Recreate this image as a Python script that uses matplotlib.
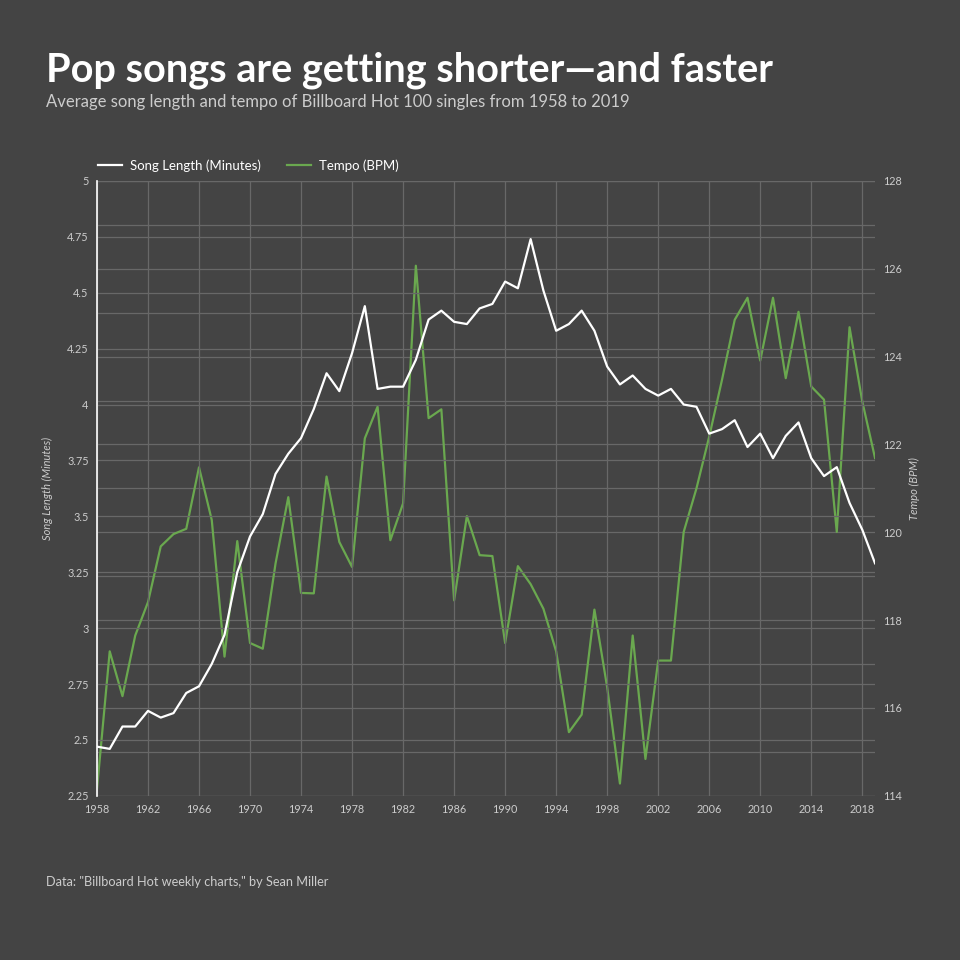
import matplotlib
matplotlib.use('Agg')
from matplotlib import pyplot as plt
from matplotlib.ticker import MultipleLocator, FuncFormatter
import numpy as np

# years on the x axis
years = list(range(1958, 2020))
year_ticks = list(range(1958, 2019, 4))

# average song length in minutes
song_length = [2.47, 2.46, 2.56, 2.56, 2.63, 2.60, 2.62, 2.71, 2.74, 2.84,
               2.97, 3.25, 3.41, 3.51, 3.69, 3.78, 3.85, 3.98, 4.14, 4.06,
               4.23, 4.44, 4.07, 4.08, 4.08, 4.20, 4.38, 4.42, 4.37, 4.36,
               4.43, 4.45, 4.55, 4.52, 4.74, 4.51, 4.33, 4.36, 4.42, 4.33,
               4.17, 4.09, 4.13, 4.07, 4.04, 4.07, 4.00, 3.99, 3.87, 3.89,
               3.93, 3.81, 3.87, 3.76, 3.86, 3.92, 3.76, 3.68, 3.72, 3.56,
               3.44, 3.29]

# average tempo in BPM
tempo = [114.15, 117.29, 116.27, 117.65, 118.41, 119.68, 119.96, 120.08, 121.48, 120.28,
         117.17, 119.80, 117.48, 117.35, 119.29, 120.80, 118.62, 118.61, 121.27, 119.78,
         119.21, 122.14, 122.86, 119.82, 120.66, 126.07, 122.60, 122.80, 118.45, 120.37,
         119.48, 119.46, 117.48, 119.23, 118.82, 118.26, 117.29, 115.45, 115.85, 118.24,
         116.47, 114.28, 117.65, 114.84, 117.08, 117.08, 120.01, 121.00, 122.18, 123.47,
         124.84, 125.34, 123.91, 125.34, 123.51, 125.02, 123.32, 123.02, 120.01, 124.67,
         122.98, 121.69]

bg = '#444444'
grid_col = '#686868'
text_col = '#cccccc'
green = '#6aa84f'

plt.rcParams['font.family'] = ['Lato', 'DejaVu Sans']

fig = plt.figure(figsize=(9.6, 9.6), dpi=100, facecolor=bg)
ax = fig.add_axes([0.101, 0.171, 0.8105, 0.6405])
ax2 = ax.twinx()

l1, = ax.plot(years, song_length, color='white', lw=1.6, zorder=5)
l2, = ax2.plot(years, tempo, color=green, lw=1.6, zorder=4)

ax.set_xlim(1958, 2019)
ax.set_ylim(2.25, 5)
ax2.set_ylim(114, 128)

ax.set_xticks(year_ticks)
ax.yaxis.set_major_locator(MultipleLocator(0.25))
ax.yaxis.set_major_formatter(FuncFormatter(lambda v, p: '%g' % v))
ax2.yaxis.set_major_locator(MultipleLocator(2))
ax2.yaxis.set_minor_locator(MultipleLocator(1))

# ax2 carries the background so the green line sits under the white one
ax.set_zorder(ax2.get_zorder() + 1)
ax.patch.set_visible(False)
ax2.patch.set_visible(True)
ax2.patch.set_facecolor(bg)

ax2.grid(True, which='both', axis='y', color=grid_col, lw=0.9)
ax.grid(True, which='major', color=grid_col, lw=0.9)
ax.set_axisbelow(True)
ax2.set_axisbelow(True)

for a in (ax, ax2):
    for s in a.spines.values():
        s.set_visible(False)
    a.tick_params(which='both', colors=text_col, labelsize=7.8, length=0, pad=6)
ax.spines['left'].set_visible(True)
ax.spines['left'].set_color('white')
ax.spines['left'].set_linewidth(1.2)

ax.set_ylabel('Song Length (Minutes)', color=text_col, fontsize=8,
              style='italic', labelpad=10)
ax2.set_ylabel('Tempo (BPM)', color=text_col, fontsize=8,
               style='italic', labelpad=5)

leg = ax.legend([l1, l2], ['Song Length (Minutes)', 'Tempo (BPM)'],
                loc='lower left', bbox_to_anchor=(-0.01, 1.0), ncol=2,
                frameon=False, fontsize=9.5, handlelength=1.8,
                handletextpad=0.6, columnspacing=2.0, borderaxespad=0.3)
for t in leg.get_texts():
    t.set_color('white')

fig.text(0.048, 0.915, 'Pop songs are getting shorter\u2014and faster',
         color='white', fontsize=28.5, fontweight='bold', va='baseline')
fig.text(0.048, 0.889, 'Average song length and tempo of Billboard Hot 100 singles from 1958 to 2019',
         color=text_col, fontsize=12, va='baseline')
fig.text(0.048, 0.077, 'Data: "Billboard Hot weekly charts," by Sean Miller',
         color=text_col, fontsize=9.2, va='baseline')

fig.savefig('out.png', dpi=100, facecolor=bg)
